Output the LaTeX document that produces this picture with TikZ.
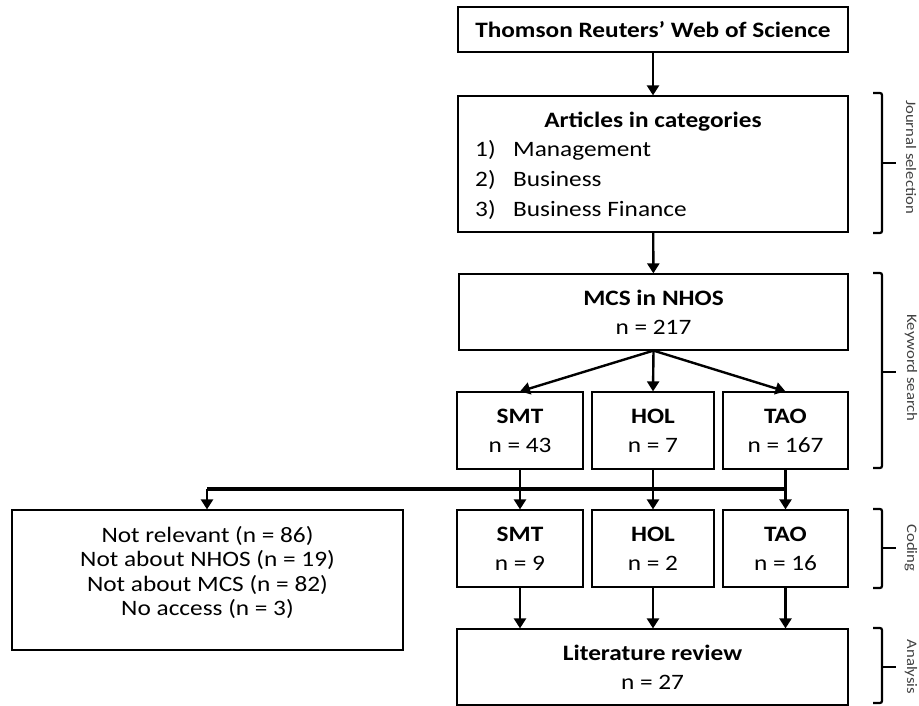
\documentclass[tikz,border=0pt]{standalone}
\usepackage{fontspec}
\setmainfont{Carlito}[FakeStretch=1.15]
\usetikzlibrary{arrows.meta}

\begin{document}
\begin{tikzpicture}[x=1pt, y=-1pt,
        box/.style={draw, line width=1.2pt, inner sep=0pt, align=center,
            font=\fontsize{22}{29}\selectfont},
        txt/.style={inner sep=0pt, text height=15pt, text depth=5pt,
            font=\fontsize{22}{29}\selectfont},
        conn/.style={line width=2.4pt, -{Triangle[width=12pt,length=10pt]}},
        bus/.style={line width=3.2pt},
        brace/.style={line width=2.2pt, rounded corners=2pt},
        side/.style={rotate=-90, inner sep=0pt, text=black!75,
            font=\fontsize{14.5}{17}\selectfont}]
    \useasboundingbox (0,0) rectangle (919,706);
    % source and journal selection
    \node[box, minimum width=390pt, minimum height=45pt] (wos) at (653,29.5)
        {\textbf{Thomson Reuters' Web of Science}};
    \node[box, minimum width=390pt, minimum height=136pt] (art) at (653,164) {};
    \node[txt, font=\fontsize{22}{29}\selectfont\bfseries] (art-title) at (653,123) {Articles in categories};
    \foreach \y/\num/\cat [count=\i] in {152/1)/Management, 181.5/2)/Business, 211/3)/Business Finance} {
        \node[txt, anchor=west] (art-n\i) at (475,\y) {\num};
        \node[txt, anchor=west] (art-c\i) at (513,\y) {\cat};
    }
    % keyword search
    \node[box, minimum width=389pt, minimum height=76pt] (mcs) at (653.5,312)
        {\textbf{MCS in NHOS}\\n = 217};
    \node[box, minimum width=126pt, minimum height=77pt] (smt1) at (520,430.5) {\textbf{SMT}\\n = 43};
    \node[box, minimum width=122pt, minimum height=77pt] (hol1) at (653,430.5) {\textbf{HOL}\\n = 7};
    \node[box, minimum width=125pt, minimum height=77pt] (tao1) at (785.5,430.5) {\textbf{TAO}\\n = 167};
    % coding
    \node[box, minimum width=126pt, minimum height=77pt] (smt2) at (520,548.5) {\textbf{SMT}\\n = 9};
    \node[box, minimum width=122pt, minimum height=77pt] (hol2) at (653,548.5) {\textbf{HOL}\\n = 2};
    \node[box, minimum width=125pt, minimum height=77pt] (tao2) at (785.5,548.5) {\textbf{TAO}\\n = 16};
    \node[box, minimum width=391pt, minimum height=140pt, text depth=18pt,
        font=\fontsize{22}{24.5}\selectfont] (drop) at (207.5,580)
        {Not relevant (n = 86)\\Not about NHOS (n = 19)\\Not about MCS (n = 82)\\No access (n = 3)};
    % analysis
    \node[box, minimum width=391pt, minimum height=76pt] (lit) at (652.5,667)
        {\textbf{Literature review}\\n = 27};

    \draw[conn] (wos) -- (art);
    \draw[conn] (art) -- (mcs);
    \draw[conn] (mcs.south) -- (smt1.north);
    \draw[conn] (mcs.south) -- (hol1.north);
    \draw[conn] (mcs.south) -- (tao1.north);
    \coordinate (busL) at (207,489);
    \coordinate (busR) at (786,489);
    \draw[bus] (busL) -- (busR);
    \draw[conn] (busL) -- (busL |- drop.north);
    \draw[conn] (smt1) -- (smt2);
    \draw[conn] (hol1) -- (hol2);
    \draw[conn] (tao1) -- (tao2);
    \draw[conn] (smt2.south) -- (smt2.south |- lit.north);
    \draw[conn] (hol2.south) -- (hol2.south |- lit.north);
    \draw[conn] (tao2.south) -- (tao2.south |- lit.north);

    % stage brackets
    \foreach \ya/\yb/\ym/\yl/\lbl [count=\i] in {93/233/163/157/Journal selection,
            273/468/372/368/Keyword search, 509/588/548/548/Coding, 628/703/667/667/Analysis} {
        \draw[brace] (873,\ya) -- (882,\ya) -- (882,\yb) -- (873,\yb);
        \draw[brace] (882,\ym) -- (896,\ym);
        \node[side] (stage\i) at (911,\yl) {\lbl};
    }
\end{tikzpicture}
\end{document}
